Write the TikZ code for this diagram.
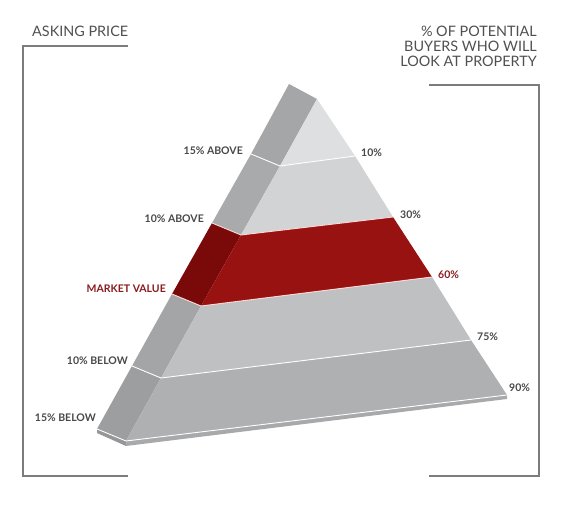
\documentclass[tikz,border=0pt]{standalone}
\usepackage{fontspec}
\setmainfont{Lato}
\definecolor{bracketgrey}{HTML}{7C7C7E}
\definecolor{titlegrey}{HTML}{505052}
\definecolor{labelgrey}{HTML}{48484A}
\definecolor{labelred}{HTML}{8A1A1E}
\definecolor{frontA}{HTML}{DEDFE1}
\definecolor{frontB}{HTML}{D2D3D5}
\definecolor{frontC}{HTML}{981211}
\definecolor{frontD}{HTML}{BFC0C2}
\definecolor{frontE}{HTML}{AFB0B2}
\definecolor{sideA}{HTML}{A5A6A8}
\definecolor{sideB}{HTML}{A9AAAC}
\definecolor{sideC}{HTML}{7A0A0A}
\definecolor{sideD}{HTML}{A4A5A7}
\definecolor{sideE}{HTML}{9D9EA0}
\definecolor{slabfront}{HTML}{A8A9AB}
\definecolor{slabside}{HTML}{959698}
\begin{document}
\begin{tikzpicture}[x=1pt,y=-1pt,
  bracket/.style={draw=bracketgrey, line width=1.3pt},
  sepline/.style={draw=white, line width=0.9pt, line join=round},
  lbl/.style={font=\fontsize{10.5}{11}\selectfont\bfseries, text=labelgrey, inner sep=0pt},
  lblred/.style={lbl, text=labelred},
  ttl/.style={font=\fontsize{14.4}{15}\selectfont, text=titlegrey, inner sep=0pt}]
\useasboundingbox (0,0) rectangle (574,518);

% brackets
\draw[bracket] (128,46) -- (23,46) -- (23,476) -- (128,476);
\draw[bracket] (429,85) -- (539,85) -- (539,476) -- (429,476);

% titles
\node[ttl, anchor=base west] (asking) at (32,37) {ASKING PRICE};
\node[ttl, anchor=base east] (pct1) at (537,37) {\% OF POTENTIAL};
\node[ttl, anchor=base east] (pct2) at (537,52) {BUYERS WHO WILL};
\node[ttl, anchor=base east] (pct3) at (537,67) {LOOK AT PROPERTY};

% pyramid coordinates
\coordinate (L0) at (317,99);
\coordinate (L1) at (280,166); \coordinate (R1) at (355,156);
\coordinate (L2) at (241,235); \coordinate (R2) at (393,217);
\coordinate (L3) at (201,306); \coordinate (R3) at (432,277);
\coordinate (L4) at (161,378); \coordinate (R4) at (471,340);
\coordinate (L5) at (126,441); \coordinate (R5) at (507,395);
\coordinate (S0) at (289,84);
\coordinate (S1) at (251,154);
\coordinate (S2) at (212,223);
\coordinate (S3) at (172,294);
\coordinate (S4) at (132,366);
\coordinate (S5) at (97,429);
\coordinate (L5b) at (126,446);
\coordinate (R5b) at (507,399);
\coordinate (S5b) at (97,433);

% slab
\fill[slabside] (S5) -- (L5) -- (L5b) -- (S5b) -- cycle;
\fill[slabfront] (L5) -- (R5) -- (R5b) -- (L5b) -- cycle;

% side faces
\fill[sideA] (S0) -- (L0) -- (L1) -- (S1) -- cycle;
\fill[sideB] (S1) -- (L1) -- (L2) -- (S2) -- cycle;
\fill[sideC] (S2) -- (L2) -- (L3) -- (S3) -- cycle;
\fill[sideD] (S3) -- (L3) -- (L4) -- (S4) -- cycle;
\fill[sideE] (S4) -- (L4) -- (L5) -- (S5) -- cycle;

% front faces
\fill[frontA] (L0) -- (R1) -- (L1) -- cycle;
\fill[frontB] (L1) -- (R1) -- (R2) -- (L2) -- cycle;
\fill[frontC] (L2) -- (R2) -- (R3) -- (L3) -- cycle;
\fill[frontD] (L3) -- (R3) -- (R4) -- (L4) -- cycle;
\fill[frontE] (L4) -- (R4) -- (R5) -- (L5) -- cycle;

% separating lines
\draw[sepline] (S1) -- (L1) -- (R1);
\draw[sepline, draw=white!85!red] (S2) -- (L2) -- (R2);
\draw[sepline, draw=white!85!red] (S3) -- (L3) -- (R3);
\draw[sepline] (S4) -- (L4) -- (R4);
\draw[sepline] (S5) -- (L5) -- (R5);

% left labels
\node[lbl, anchor=base east] (a15) at (243,155) {15\% ABOVE};
\node[lbl, anchor=base east] (a10) at (204,223) {10\% ABOVE};
\node[lblred, anchor=base east] (mv) at (166,293) {MARKET VALUE};
\node[lbl, anchor=base east] (b10) at (128,365) {10\% BELOW};
\node[lbl, anchor=base east] (b15) at (96,422) {15\% BELOW};

% right labels
\node[lbl, anchor=base west] (p10) at (361,157) {10\%};
\node[lbl, anchor=base west] (p30) at (400,219) {30\%};
\node[lblred, anchor=base west] (p60) at (438,279) {60\%};
\node[lbl, anchor=base west] (p75) at (477,341) {75\%};
\node[lbl, anchor=base west] (p90) at (509,392) {90\%};
\end{tikzpicture}
\end{document}
